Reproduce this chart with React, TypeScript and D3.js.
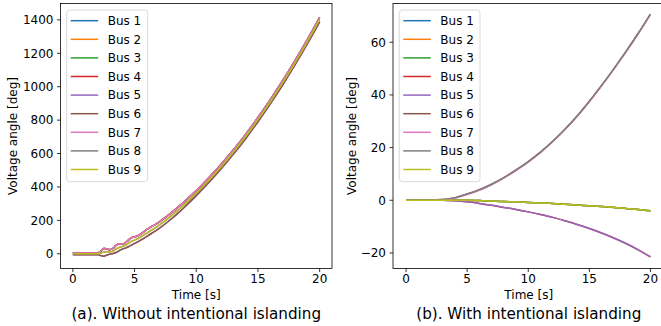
import React from "react";
import * as d3 from "d3";

const busNames = ["Bus 1", "Bus 2", "Bus 3", "Bus 4", "Bus 5", "Bus 6", "Bus 7", "Bus 8", "Bus 9"];
const busColors = ["#1f77b4", "#ff7f0e", "#2ca02c", "#d62728", "#9467bd", "#8c564b", "#e377c2", "#7f7f7f", "#bcbd22"];

const xTicks = [0, 5, 10, 15, 20];
const leftYTicks = [0, 200, 400, 600, 800, 1000, 1200, 1400];
const rightYTicks = [-20, 0, 20, 40, 60];

// (a) Without intentional islanding
const timeA = [0, 1, 2, 2.25, 2.5, 2.75, 3, 3.25, 3.5, 3.75, 4, 4.25, 4.5, 4.75, 5, 5.5, 6, 6.5, 7, 7.5, 8, 8.5, 9, 10, 11, 12, 13, 14, 15, 16, 17, 18, 19, 20];
const upperA = [5, 5, 5, 15, 32, 30, 24, 32, 50, 60, 58, 66, 82, 96, 100, 118, 146, 168, 190, 218, 246, 278, 310, 378, 453, 534, 621, 715, 816, 923, 1036, 1156, 1282, 1415];
const midA = [0, 0, 0, 4, 10, 12, 12, 16, 28, 38, 44, 50, 62, 74, 82, 100, 124, 148, 172, 199, 228, 260, 293, 363, 439, 520, 608, 702, 803, 910, 1023, 1143, 1269, 1402];
const lowerA = [-5, -5, -5, -10, -14, -8, -2, 2, 8, 18, 28, 34, 42, 52, 62, 82, 104, 128, 152, 180, 210, 242, 276, 348, 425, 507, 595, 689, 790, 897, 1010, 1130, 1256, 1388];
// group per bus: 0 = upper, 1 = mid, 2 = lower
const groupA = [0, 0, 0, 0, 2, 2, 0, 1, 1];

// (b) With intentional islanding
const timeB = [0, 1, 2, 3, 4, 5, 6, 7, 8, 9, 10, 11, 12, 13, 14, 15, 16, 17, 18, 19, 20];
const upperB = [0, 0, 0, 0.1, 0.8, 2.2, 3.8, 5.9, 8.4, 11.3, 14.5, 18.1, 22.2, 26.8, 31.8, 37.4, 43.4, 49.7, 56.3, 63.2, 70.5];
const upperB2 = [0.2, 0.2, 0.2, 0.3, 1.0, 2.4, 4.0, 6.1, 8.6, 11.5, 14.7, 18.3, 22.4, 27.0, 32.0, 37.6, 43.6, 49.9, 56.5, 63.4, 70.7];
const midB = [0, 0, 0, 0, 0, 0, -0.1, -0.3, -0.5, -0.6, -0.8, -1.0, -1.2, -1.5, -1.8, -2.1, -2.4, -2.7, -3.1, -3.5, -4.0];
const lowerB = [0, 0, 0, 0, -0.2, -0.6, -1.2, -1.9, -2.7, -3.5, -4.4, -5.4, -6.5, -7.8, -9.2, -10.7, -12.4, -14.3, -16.4, -18.8, -21.5];
// group per bus: 0 = upper, 1 = mid, 2 = lower, 3 = upper (slightly offset)
const groupB = [1, 1, 1, 2, 2, 3, 0, 3, 1];

const FONT = "DejaVu Sans, sans-serif";

type PanelProps = {
  id: string;
  left: number;
  top: number;
  width: number;
  height: number;
  xDomain: [number, number];
  yDomain: [number, number];
  yTicks: number[];
  time: number[];
  groups: number[][];
  busGroup: number[];
  caption: string;
  yLabelX: number;
  legendX: number;
  legendW: number;
};

function Panel(p: PanelProps) {
  const x = d3.scaleLinear().domain(p.xDomain).range([p.left, p.left + p.width]);
  const y = d3.scaleLinear().domain(p.yDomain).range([p.top + p.height, p.top]);
  const bottom = p.top + p.height;
  const line = (vals: number[]) =>
    d3
      .line<number>()
      .x((_, i) => x(p.time[i]))
      .y((v) => y(v))
      .curve(d3.curveMonotoneX)(vals) || "";
  const cx = p.left + p.width / 2;
  const legendTop = 10;
  const rowH = 18.6;
  return (
    <g>
      <defs>
        <clipPath id={p.id}>
          <rect x={p.left} y={p.top} width={p.width} height={p.height} />
        </clipPath>
      </defs>
      <g clipPath={`url(#${p.id})`}>
        {busNames.map((b, i) => (
          <path key={b} d={line(p.groups[p.busGroup[i]])} fill="none" stroke={busColors[i]} strokeWidth={1.5} />
        ))}
      </g>
      <rect x={p.left} y={p.top} width={p.width} height={p.height} fill="none" stroke="#000" strokeWidth={0.8} />
      {xTicks.map((t) => (
        <g key={t}>
          <line x1={x(t)} x2={x(t)} y1={bottom} y2={bottom + 3.5} stroke="#000" strokeWidth={0.8} />
          <text x={x(t)} y={bottom + 14.5} fontSize={12} fontFamily={FONT} textAnchor="middle" fill="#000">
            {t}
          </text>
        </g>
      ))}
      {p.yTicks.map((t) => (
        <g key={t}>
          <line x1={p.left - 3.5} x2={p.left} y1={y(t)} y2={y(t)} stroke="#000" strokeWidth={0.8} />
          <text x={p.left - 7} y={y(t) + 4.3} fontSize={12} fontFamily={FONT} textAnchor="end" fill="#000">
            {t < 0 ? `\u2212${Math.abs(t)}` : t}
          </text>
        </g>
      ))}
      <text x={cx} y={299} fontSize={12} fontFamily={FONT} textAnchor="middle" fill="#000">
        Time [s]
      </text>
      <text
        transform={`translate(${p.yLabelX},${p.top + p.height / 2}) rotate(-90)`}
        fontSize={12}
        fontFamily={FONT}
        textAnchor="middle"
        dominantBaseline="central"
        fill="#000"
      >
        Voltage angle [deg]
      </text>
      <text x={cx} y={318.5} fontSize={15.2} fontFamily={FONT} textAnchor="middle" fill="#000">
        {p.caption}
      </text>
      <g>
        <rect
          x={p.legendX}
          y={legendTop}
          width={p.legendW}
          height={171.7}
          rx={3}
          fill="#fff"
          fillOpacity={0.8}
          stroke="#d0d0d0"
          strokeWidth={0.8}
        />
        {busNames.map((b, i) => {
          const ly = legendTop + 10.7 + i * rowH;
          return (
            <g key={b}>
              <line x1={p.legendX + 4} x2={p.legendX + 31.5} y1={ly} y2={ly} stroke={busColors[i]} strokeWidth={1.5} />
              <text x={p.legendX + 41} y={ly + 4.3} fontSize={12} fontFamily={FONT} fill="#000">
                {b}
              </text>
            </g>
          );
        })}
      </g>
    </g>
  );
}

export default function App() {
  return (
    <svg width={661} height={326} style={{ position: "absolute", left: 0, top: 0, background: "#fff" }}>
      <rect x={0} y={0} width={661} height={326} fill="#fff" />
      <Panel
        id="clipA"
        left={60.5}
        top={3.5}
        width={271.5}
        height={265}
        xDomain={[-1, 21]}
        yDomain={[-88, 1498]}
        yTicks={leftYTicks}
        time={timeA}
        groups={[upperA, midA, lowerA]}
        busGroup={groupA}
        caption="(a). Without intentional islanding"
        yLabelX={13}
        legendX={66.7}
        legendW={81}
      />
      <Panel
        id="clipB"
        left={393}
        top={3.5}
        width={271.5}
        height={265}
        xDomain={[-1.07, 21.15]}
        yDomain={[-25.9, 74.7]}
        yTicks={rightYTicks}
        time={timeB}
        groups={[upperB, midB, lowerB, upperB2]}
        busGroup={groupB}
        caption="(b). With intentional islanding"
        yLabelX={352}
        legendX={399.3}
        legendW={80.7}
      />
    </svg>
  );
}
